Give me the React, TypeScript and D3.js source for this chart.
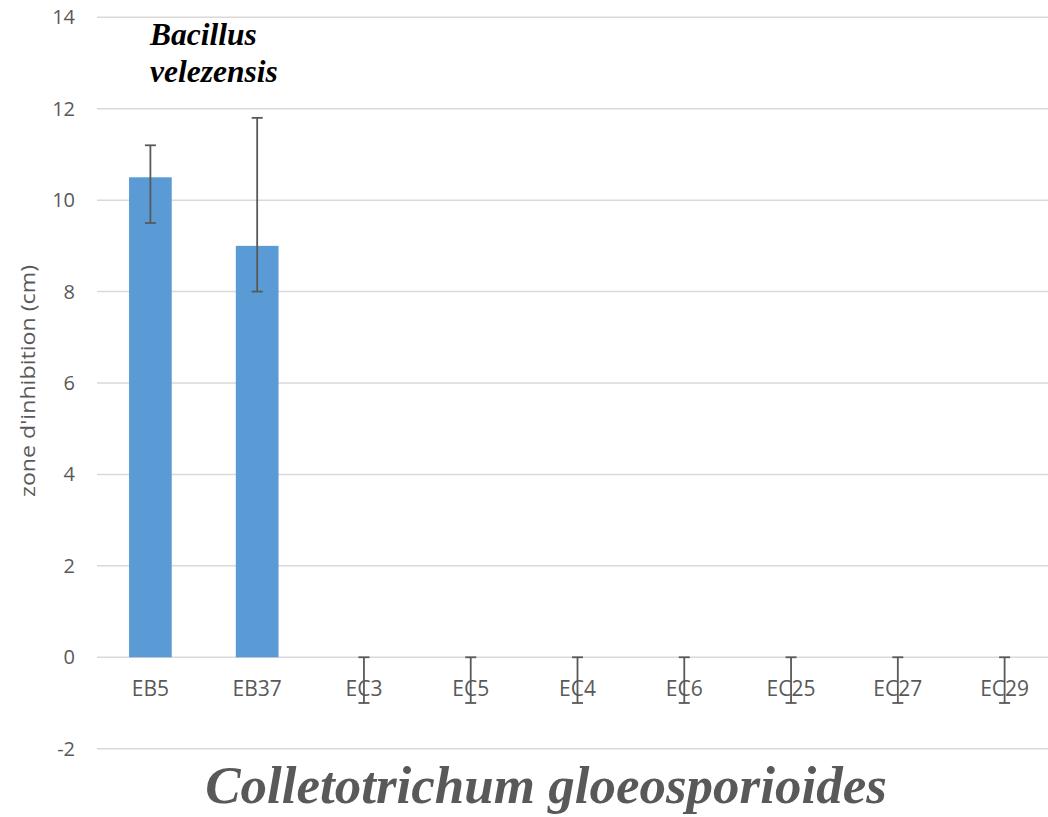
import React, { useRef, useEffect } from "react";
import * as d3 from "d3";

const categories = ["EB5", "EB37", "EC3", "EC5", "EC4", "EC6", "EC25", "EC27", "EC29"];
const values = [10.5, 9, 0, 0, 0, 0, 0, 0, 0];
const errPlus = [0.7, 2.8, 0, 0, 0, 0, 0, 0, 0];
const errMinus = [1, 1, 1, 1, 1, 1, 1, 1, 1];
const yTicks = [-2, 0, 2, 4, 6, 8, 10, 12, 14];

const App = () => {
  const svgRef = useRef<SVGSVGElement>(null);

  useEffect(() => {
    const svg = d3.select(svgRef.current);
    svg.selectAll("*").remove();

    const width = 1048;
    const height = 817;
    const grey = "#595959";
    const sans = "'Open Sans', Lato, sans-serif";
    const serif = "'Liberation Serif', 'DejaVu Serif', serif";

    const x = d3.scaleBand().domain(categories).range([97, 1058]).paddingInner(0).paddingOuter(0);
    const y = d3.scaleLinear().domain([-2, 14]).range([748.7, 17.3]);
    const barW = x.bandwidth() * 0.4;
    const cx = (c: string) => (x(c) as number) + x.bandwidth() / 2;

    svg.append("rect").attr("width", width).attr("height", height).attr("fill", "#fff");

    // gridlines
    svg
      .selectAll("line.grid")
      .data(yTicks)
      .join("line")
      .attr("class", "grid")
      .attr("x1", 97)
      .attr("x2", width)
      .attr("y1", d => y(d))
      .attr("y2", d => y(d))
      .attr("stroke", "#d9d9d9")
      .attr("stroke-width", 1.5);

    // y tick labels
    svg
      .selectAll("text.ytick")
      .data(yTicks)
      .join("text")
      .attr("class", "ytick")
      .attr("x", 75)
      .attr("y", d => y(d))
      .attr("dy", "0.35em")
      .attr("text-anchor", "end")
      .attr("fill", grey)
      .style("font-family", sans)
      .style("font-size", "20px")
      .text(d => d);

    // bars
    svg
      .selectAll("rect.bar")
      .data(values)
      .join("rect")
      .attr("class", "bar")
      .attr("x", (d, i) => cx(categories[i]) - barW / 2)
      .attr("y", d => y(Math.max(d, 0)))
      .attr("width", barW)
      .attr("height", d => Math.abs(y(d) - y(0)))
      .attr("fill", "#5b9bd5");

    // category labels
    svg
      .selectAll("text.cat")
      .data(categories)
      .join("text")
      .attr("class", "cat")
      .attr("x", d => cx(d))
      .attr("y", 696)
      .attr("text-anchor", "middle")
      .attr("fill", grey)
      .style("font-family", sans)
      .style("font-size", "21px")
      .text(d => d);

    // error bars
    const err = svg.append("g").attr("stroke", grey).attr("stroke-width", 1.8).attr("fill", "none");
    values.forEach((v, i) => {
      const c = cx(categories[i]);
      const top = y(v + errPlus[i]);
      const bot = y(v - errMinus[i]);
      err.append("line").attr("x1", c).attr("x2", c).attr("y1", top).attr("y2", bot);
      err.append("line").attr("x1", c - 5.5).attr("x2", c + 5.5).attr("y1", top).attr("y2", top);
      err.append("line").attr("x1", c - 5.5).attr("x2", c + 5.5).attr("y1", bot).attr("y2", bot);
    });

    // y axis title
    svg
      .append("text")
      .attr("transform", "translate(35,381) rotate(-90)")
      .attr("text-anchor", "middle")
      .attr("fill", grey)
      .attr("textLength", 232)
      .attr("lengthAdjust", "spacingAndGlyphs")
      .style("font-family", sans)
      .style("font-size", "20px")
      .text("zone d'inhibition (cm)");

    // species annotation
    const ann = svg
      .append("text")
      .attr("fill", "#000")
      .style("font-family", serif)
      .style("font-size", "31.5px")
      .style("font-weight", "bold")
      .style("font-style", "italic");
    ann.append("tspan").attr("x", 150).attr("y", 45).text("Bacillus");
    ann.append("tspan").attr("x", 150).attr("y", 82).text("velezensis");

    // bottom title
    svg
      .append("text")
      .attr("x", 546)
      .attr("y", 803)
      .attr("text-anchor", "middle")
      .attr("fill", grey)
      .style("font-family", serif)
      .style("font-size", "53px")
      .style("font-weight", "bold")
      .style("font-style", "italic")
      .text("Colletotrichum gloeosporioides");
  }, []);

  return (
    <div style={{ position: "absolute", left: 0, top: 0 }}>
      <svg ref={svgRef} width={1048} height={817} style={{ display: "block" }} />
    </div>
  );
};

export default App;
